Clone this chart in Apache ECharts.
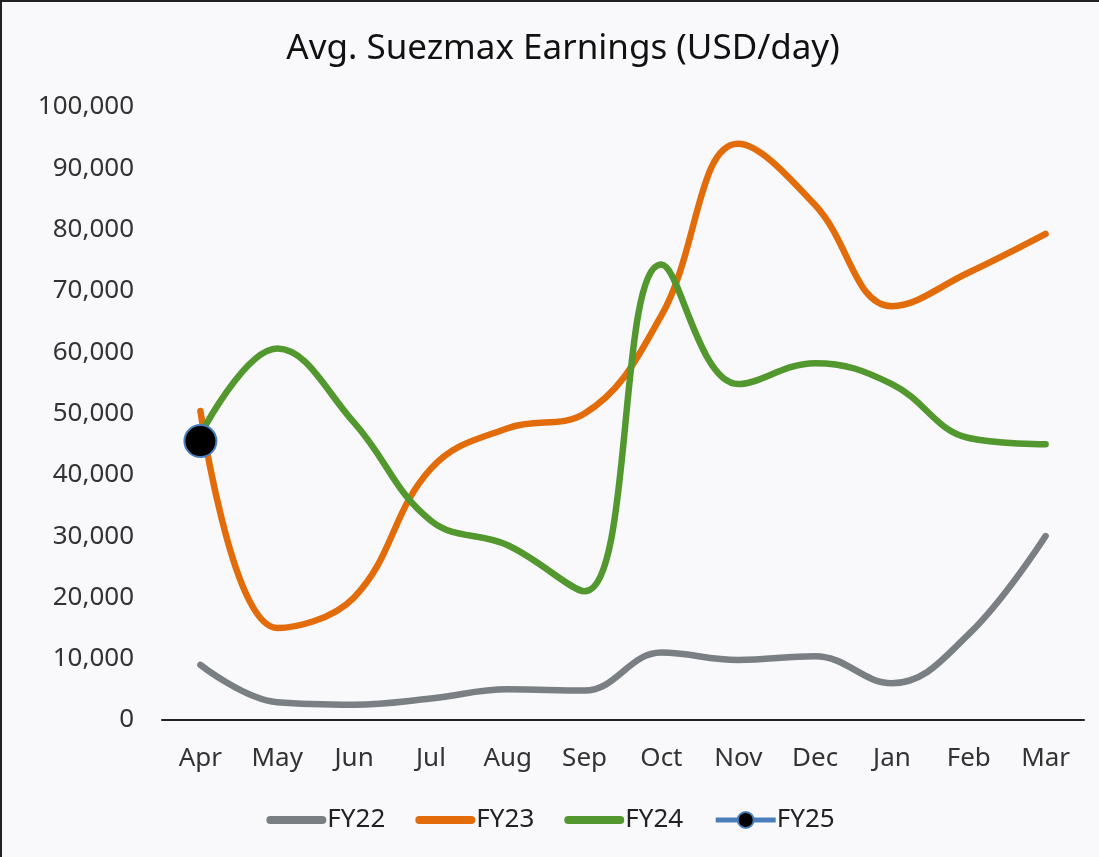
<!DOCTYPE html>
<html>
<head>
<meta charset="utf-8">
<script src="https://cdn.jsdelivr.net/npm/echarts@6/dist/echarts.min.js"></script>
<style>
  html, body { margin: 0; padding: 0; background: #f9f9fb; }
  #chart { width: 1099px; height: 857px; box-sizing: border-box; border-left: 2px solid #222; border-top: 2px solid #222; }
</style>
</head>
<body>
<div id="chart"></div>
<script>
const months = ['Apr', 'May', 'Jun', 'Jul', 'Aug', 'Sep', 'Oct', 'Nov', 'Dec', 'Jan', 'Feb', 'Mar'];
const fy22 = [9000, 2900, 2500, 3500, 5000, 4800, 11000, 9800, 10400, 6000, 14000, 30000];
const fy23 = [50400, 15000, 20000, 41000, 47600, 50000, 66000, 94000, 84000, 67500, 73000, 79300];
const fy24 = [46500, 60600, 48500, 32500, 28500, 21000, 74300, 54800, 58200, 54800, 46000, 45000];
const fy25 = [45500, null, null, null, null, null, null, null, null, null, null, null];

const chart = echarts.init(document.getElementById('chart'));
const font = 'Noto Sans';
const barIcon = 'path://M4,0 H56 A4,4 0 0 1 56,8 H4 A4,4 0 0 1 4,0 Z';

function lineSeries(name, data, color) {
  return {
    name: name,
    type: 'line',
    smooth: 0.4,
    symbol: 'none',
    lineStyle: { color: color, width: 6.5, cap: 'round' },
    itemStyle: { color: color },
    data: data
  };
}

const option = {
  backgroundColor: '#f9f9fb',
  textStyle: { fontFamily: font },
  title: {
    text: 'Avg. Suezmax Earnings (USD/day)',
    left: 556,
    top: 25,
    textAlign: 'center',
    textStyle: { fontFamily: font, fontSize: 35, fontWeight: 'normal', color: '#111' }
  },
  grid: { left: 160, right: 15, top: 105, bottom: 137 },
  legend: {
    bottom: 19,
    left: 'center',
    itemWidth: 60,
    itemHeight: 20,
    itemGap: 30,
    textStyle: { fontFamily: font, fontSize: 26, color: '#222', padding: [0, 0, 0, -4] },
    data: [
      { name: 'FY22', icon: barIcon },
      { name: 'FY23', icon: barIcon },
      { name: 'FY24', icon: barIcon },
      { name: 'FY25', lineStyle: { width: 5 } }
    ]
  },
  xAxis: {
    type: 'category',
    data: months,
    boundaryGap: true,
    axisLine: { lineStyle: { color: '#222', width: 2 } },
    axisTick: { show: false },
    axisLabel: { fontFamily: font, fontSize: 26, color: '#333', margin: 26 }
  },
  yAxis: {
    type: 'value',
    min: 0,
    max: 100000,
    interval: 10000,
    splitLine: { show: false },
    axisLine: { show: false },
    axisTick: { show: false },
    axisLabel: {
      fontFamily: font, fontSize: 26, color: '#333', margin: 28,
      formatter: v => v.toLocaleString('en-US')
    }
  },
  series: [
    lineSeries('FY22', fy22, '#7a7f83'),
    lineSeries('FY23', fy23, '#e36c0a'),
    lineSeries('FY24', fy24, '#52982f'),
    {
      name: 'FY25',
      type: 'line',
      symbol: 'circle',
      symbolSize: 32,
      lineStyle: { color: '#4a7ebb', width: 5 },
      itemStyle: { color: '#000', borderColor: '#4a7ebb', borderWidth: 2 },
      data: fy25,
      z: 5
    }
  ]
};
chart.setOption(option);
</script>
</body>
</html>
